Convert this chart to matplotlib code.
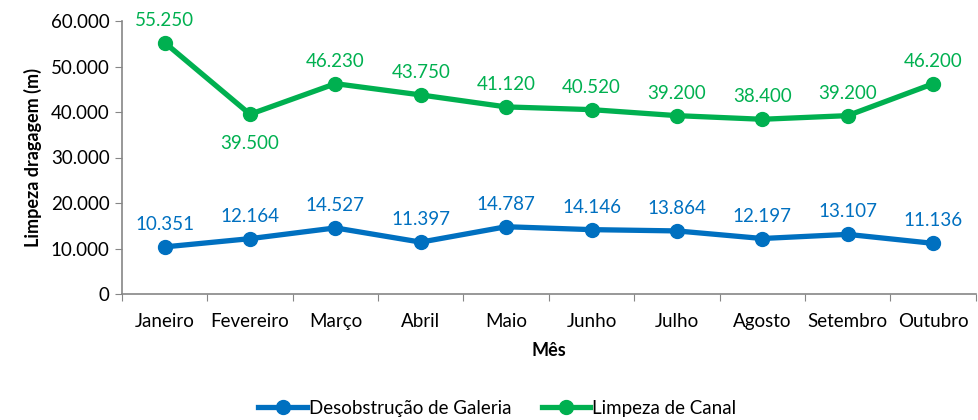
import matplotlib.pyplot as plt
from matplotlib.ticker import FuncFormatter

plt.rcParams['font.family'] = ['Lato', 'DejaVu Sans']

meses = ['Janeiro', 'Fevereiro', 'Março', 'Abril', 'Maio', 'Junho',
         'Julho', 'Agosto', 'Setembro', 'Outubro']
galeria = [10351, 12164, 14527, 11397, 14787, 14146, 13864, 12197, 13107, 11136]
canal = [55250, 39500, 46230, 43750, 41120, 40520, 39200, 38400, 39200, 46200]

blue = '#0070C0'
green = '#00B050'
gray = '#868686'


def fmt(v, pos=None):
    return '{:,.0f}'.format(v).replace(',', '.')


fig = plt.figure(figsize=(9.79, 4.2), dpi=100)
ax = fig.add_axes([0.1246, 0.30, 0.872, 0.65])

x = list(range(len(meses)))
ax.plot(x, galeria, color=blue, lw=3.8, marker='o', ms=10, label='Desobstrução de Galeria')
ax.plot(x, canal, color=green, lw=3.8, marker='o', ms=10, label='Limpeza de Canal')

for i in x:
    ax.annotate(fmt(galeria[i]), (i, galeria[i]), xytext=(0, 10), textcoords='offset points',
                ha='center', va='bottom', color=blue, fontsize=13.5)
    off = -15 if i == 1 else 10
    ax.annotate(fmt(canal[i]), (i, canal[i]), xytext=(0, off), textcoords='offset points',
                ha='center', va='top' if off < 0 else 'bottom', color=green, fontsize=13.5)

ax.set_xlim(-0.5, len(meses) - 0.5)
ax.set_ylim(0, 60000)
ax.set_yticks(range(0, 60001, 10000))
ax.yaxis.set_major_formatter(FuncFormatter(fmt))
ax.set_xticks([i - 0.5 for i in range(len(meses) + 1)])
ax.set_xticklabels([])
ax.set_xticks(x, minor=True)
ax.set_xticklabels(meses, minor=True)
ax.tick_params(axis='x', which='minor', length=0, pad=14, labelsize=13.5)
ax.tick_params(axis='x', which='major', length=5, color=gray, direction='out')
ax.tick_params(axis='y', length=5, color=gray, labelsize=13.5, pad=4)

for s in ['top', 'right']:
    ax.spines[s].set_visible(False)
for s in ['left', 'bottom']:
    ax.spines[s].set_color(gray)
    ax.spines[s].set_linewidth(1.2)

ax.set_ylabel('Limpeza dragagem (m)', fontsize=13, fontweight='bold', labelpad=6)
ax.set_xlabel('Mês', fontsize=13, fontweight='bold', labelpad=8)

fig.legend(loc='lower center', bbox_to_anchor=(0.508, -0.033), ncol=2, frameon=False,
           fontsize=13.5, handlelength=2.6, handletextpad=0.1, columnspacing=1.6)

fig.savefig('out.png', dpi=100)
